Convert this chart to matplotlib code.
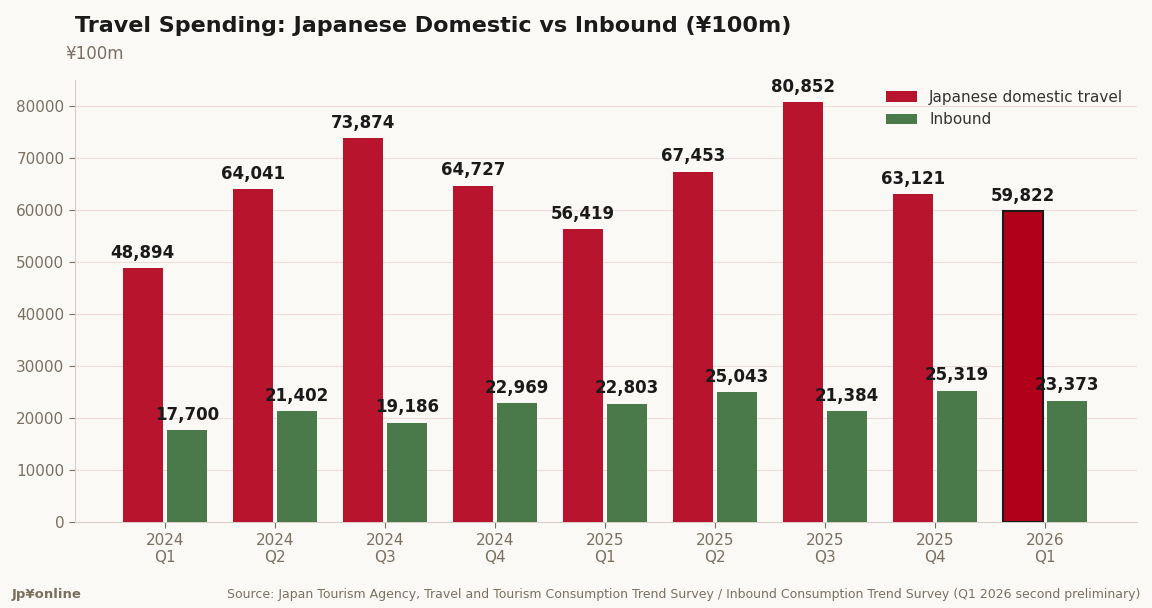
import matplotlib
matplotlib.use("Agg")
import matplotlib.pyplot as plt
import numpy as np

quarters = ["2024\nQ1","2024\nQ2","2024\nQ3","2024\nQ4","2025\nQ1","2025\nQ2","2025\nQ3","2025\nQ4","2026\nQ1"]
domestic = [48894, 64041, 73874, 64727, 56419, 67453, 80852, 63121, 59822]
inbound = [17700, 21402, 19186, 22969, 22803, 25043, 21384, 25319, 23373]

bg = "#FBF9F6"
red = "#B8142D"
green = "#4A7A4A"
tc = "#7A7060"

fig = plt.figure(figsize=(11.52, 6.08), dpi=100, facecolor=bg)
ax = fig.add_axes([0.065, 0.141, 0.922, 0.727], facecolor=bg)
x = np.arange(len(quarters))
w = 0.37
rc = [red]*8 + ["#B0001A"]
ec = ["none"]*8 + ["#1a1a1a"]
lw = [0]*8 + [1.5]
ax.bar(x-0.2, domestic, w, color=rc, edgecolor=ec, linewidth=lw, label="Japanese domestic travel", zorder=3)
ax.bar(x+0.2, inbound, w, color=green, label="Inbound", zorder=3)
for i in range(len(x)):
    ax.text(x[i]-0.2, domestic[i]+1200, f"{domestic[i]:,}", ha="center", va="bottom", fontsize=12, fontweight="bold", color="#1a1a1a", zorder=4)
    ax.text(x[i]+0.2, inbound[i]+1200, f"{inbound[i]:,}", ha="center", va="bottom", fontsize=12, fontweight="bold", color="#1a1a1a", zorder=4)

ax.set_xlim(-0.818, 8.836)
ax.set_ylim(0, 85000)
ax.set_yticks(range(0, 80001, 10000))
ax.set_xticks(x)
ax.set_xticklabels(quarters)
ax.tick_params(colors=tc, labelsize=11, length=4)
ax.tick_params(axis="x", length=4)
ax.grid(axis="y", color="#EBDCD8", linewidth=0.8, zorder=0)
for s in ["top", "right"]:
    ax.spines[s].set_visible(False)
for s in ["left", "bottom"]:
    ax.spines[s].set_color("#D8CFC8")
leg = ax.legend(loc="upper right", frameon=False, fontsize=11, bbox_to_anchor=(1.0, 1.01))
for t in leg.get_texts():
    t.set_color("#333333")

fig.text(0.065, 0.958, "Travel Spending: Japanese Domestic vs Inbound (¥100m)", fontsize=16, fontweight="bold", color="#1a1a1a", va="center")
fig.text(0.057, 0.911, "¥100m", fontsize=12, color=tc, va="center")
fig.text(0.01, 0.022, "Jp¥online", fontsize=9.5, fontweight="bold", color=tc, va="center")
fig.text(0.99, 0.022, "Source: Japan Tourism Agency, Travel and Tourism Consumption Trend Survey / Inbound Consumption Trend Survey (Q1 2026 second preliminary)", fontsize=9, color=tc, va="center", ha="right")
fig.savefig("out.png", dpi=100, facecolor=bg)
